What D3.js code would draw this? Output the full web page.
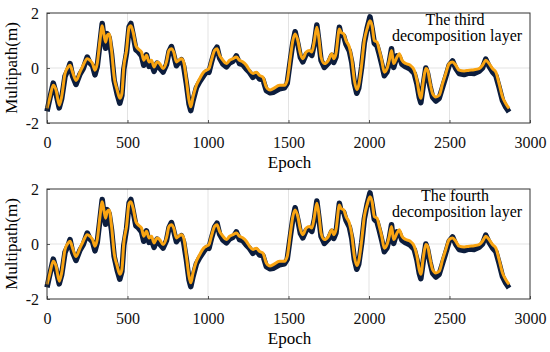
<!DOCTYPE html>
<html>
<head>
<meta charset="utf-8">
<script src="https://cdn.jsdelivr.net/npm/d3@7"></script>
<style>
  html,body{margin:0;padding:0;background:#fff;}
  svg{display:block;font-family:"Liberation Serif","Times New Roman",serif;}
  .grid line{stroke:#e3e3e3;stroke-width:1;}
  .tick text{fill:#111;}
</style>
</head>
<body>
<svg id="chart" width="550" height="352"></svg>
<script>
/* Data: epoch, filtered (orange) and raw (dark) multipath */
const smooth=[[0,-1.47],[14,-1.17],[39,-0.63],[56,-0.8],[76,-1.35],[91,-1.05],[112,-0.2],[132,0.04],[143,0.1],[159,-0.15],
[180,-0.45],[205,-0.15],[225,0.1],[250,0.34],[267,0.28],[283,0.16],[298,-0.08],[312,0.16],[329,1.0],[343,1.54],
[353,1.24],[364,0.94],[374,1.18],[386,1.24],[401,0.64],[417,-0.33],[436,-0.8],[452,-1.1],[465,-0.93],[477,0.04],
[494,0.64],[510,1.48],[521,1.54],[535,1.3],[552,0.82],[566,0.7],[587,0.58],[601,0.28],[618,0.46],[634,0.22],
[649,0.28],[665,0.04],[684,0.22],[700,0.16],[721,-0.02],[742,0.22],[758,0.64],[773,0.7],[787,0.58],[804,0.22],
[818,0.28],[835,0.34],[849,0.22],[866,-0.45],[882,-1.17],[893,-1.41],[907,-1.05],[928,-0.63],[948,-0.39],[973,-0.15],
[990,-0.08],[1006,-0.02],[1021,0.28],[1041,0.64],[1056,0.7],[1072,0.46],[1093,0.28],[1114,0.16],[1134,0.28],[1155,0.34],
[1176,0.4],[1196,0.28],[1217,0.22],[1238,0.1],[1258,-0.08],[1279,-0.2],[1300,-0.15],[1320,-0.27],[1341,-0.33],[1362,-0.69],
[1386,-0.8],[1405,-0.75],[1444,-0.63],[1475,-0.63],[1492,-0.45],[1512,0.4],[1527,1.0],[1541,1.24],[1558,1.0],[1574,0.52],
[1589,0.34],[1610,0.58],[1630,0.64],[1645,0.58],[1661,1.0],[1676,1.48],[1688,1.12],[1702,0.4],[1723,0.16],[1748,0.28],
[1769,0.52],[1781,0.34],[1795,0.52],[1816,1.42],[1826,1.3],[1843,1.24],[1857,1.0],[1878,0.76],[1893,0.34],[1909,-0.45],
[1924,-0.78],[1936,-0.63],[1955,0.16],[1971,1.0],[1988,1.42],[2006,1.72],[2019,1.54],[2033,1.0],[2050,0.94],[2064,0.64],
[2079,0.28],[2095,-0.15],[2112,-0.02],[2126,0.28],[2140,0.64],[2153,0.16],[2174,0.4],[2188,0.52],[2205,0.28],[2229,0.16],
[2256,0.1],[2281,-0.08],[2298,-0.45],[2312,-0.93],[2322,-1.1],[2337,-0.5],[2353,-0.02],[2364,-0.08],[2378,-0.5],[2395,-0.93],
[2415,-1.05],[2436,-0.99],[2457,-0.57],[2477,-0.2],[2498,0.16],[2519,0.22],[2539,0.1],[2560,-0.08],[2591,-0.11],[2622,-0.08],
[2653,-0.06],[2684,-0.02],[2705,0.1],[2725,0.28],[2746,0.16],[2767,-0.02],[2788,-0.15],[2808,-0.57],[2829,-1.05],[2849,-1.29],
[2870,-1.47]];

const raw=[[0,-1.58],[14,-1.2],[39,-0.55],[56,-0.92],[76,-1.45],[91,-1.12],[112,-0.3],[132,-0.04],[143,0.16],[159,-0.3],
[180,-0.6],[205,-0.22],[225,-0.02],[250,0.4],[267,0.18],[283,0.08],[298,-0.25],[312,0.05],[329,0.9],[343,1.62],
[353,1.1],[364,0.72],[374,1.25],[386,1.1],[401,0.5],[417,-0.45],[436,-0.95],[452,-1.28],[465,-1.0],[477,-0.05],
[494,0.55],[510,1.5],[521,1.62],[535,1.2],[552,0.66],[566,0.6],[587,0.44],[601,0.1],[618,0.48],[634,0.06],
[649,0.14],[665,-0.12],[684,0.18],[700,0.0],[721,-0.15],[742,0.12],[758,0.6],[773,0.78],[787,0.48],[804,0.08],
[818,0.2],[835,0.3],[849,0.06],[866,-0.58],[882,-1.3],[893,-1.55],[907,-1.18],[928,-0.72],[948,-0.5],[973,-0.28],
[990,-0.14],[1006,-0.16],[1021,0.2],[1041,0.62],[1056,0.76],[1072,0.36],[1093,0.14],[1114,0.04],[1134,0.18],[1155,0.24],
[1176,0.44],[1196,0.16],[1217,0.12],[1238,-0.04],[1258,-0.16],[1279,-0.34],[1300,-0.22],[1320,-0.4],[1341,-0.42],[1362,-0.82],
[1386,-0.9],[1405,-0.88],[1444,-0.76],[1475,-0.72],[1492,-0.56],[1512,0.3],[1527,0.92],[1541,1.32],[1558,0.88],[1574,0.38],
[1589,0.22],[1610,0.5],[1630,0.56],[1645,0.46],[1661,0.9],[1676,1.56],[1688,1.0],[1702,0.28],[1723,0.02],[1748,0.18],
[1769,0.46],[1781,0.2],[1795,0.4],[1816,1.48],[1826,1.2],[1843,1.16],[1857,0.86],[1878,0.62],[1893,0.2],[1909,-0.56],
[1924,-0.92],[1936,-0.74],[1955,0.06],[1971,0.92],[1988,1.44],[2006,1.86],[2019,1.44],[2033,0.9],[2050,0.8],[2064,0.5],
[2079,0.14],[2095,-0.28],[2112,-0.14],[2126,0.2],[2140,0.7],[2153,0.02],[2174,0.44],[2188,0.4],[2205,0.14],[2229,0.04],
[2256,-0.04],[2281,-0.2],[2298,-0.58],[2312,-1.06],[2322,-1.26],[2337,-0.62],[2353,0.0],[2364,-0.2],[2378,-0.64],[2395,-1.06],
[2415,-1.2],[2436,-1.1],[2457,-0.7],[2477,-0.32],[2498,0.1],[2519,0.26],[2539,-0.02],[2560,-0.2],[2591,-0.24],[2622,-0.18],
[2653,-0.2],[2684,-0.12],[2705,0.0],[2725,0.32],[2746,0.06],[2767,-0.14],[2788,-0.28],[2808,-0.7],[2829,-1.18],[2849,-1.42],
[2870,-1.6]];

const xTicks=[0,500,1000,1500,2000,2500,3000];
const yTicks=[-2,0,2];
const panelTitles=[["The third","decomposition layer"],["The fourth","decomposition layer"]];

const svg=d3.select("#chart");
const left=47,right=530,panelH=110;
const panelTops=[13,189];
const FONT="Liberation Serif";

const x=d3.scaleLinear().domain([0,3000]).range([left,right]);

panelTops.forEach((top,i)=>{
  const y=d3.scaleLinear().domain([-2,2]).range([top+panelH,top]);
  const g=svg.append("g");

  // grid
  const grid=g.append("g").attr("class","grid");
  grid.selectAll(".gx").data(xTicks.slice(1,-1)).enter().append("line")
    .attr("x1",d=>x(d)).attr("x2",d=>x(d)).attr("y1",top).attr("y2",top+panelH);
  grid.selectAll(".gy").data([0]).enter().append("line")
    .attr("x1",left).attr("x2",right).attr("y1",d=>y(d)).attr("y2",d=>y(d));

  // data
  const rawLine=d3.line().x(d=>x(d[0])).y(d=>y(d[1]));
  const smLine=d3.line().x(d=>x(d[0])).y(d=>y(d[1])).curve(d3.curveMonotoneX);
  g.append("path").datum(raw).attr("d",rawLine)
    .attr("fill","none").attr("stroke","#0c1d3d").attr("stroke-width",5.5).attr("stroke-linejoin","round");
  g.append("path").datum(smooth).attr("d",smLine)
    .attr("fill","none").attr("stroke","#f9a412").attr("stroke-width",3).attr("stroke-linejoin","round");

  // axes
  const fmt=d=>String(d);
  const xAxis=d3.axisBottom(x).tickValues(xTicks).tickFormat(fmt).tickSize(-3).tickPadding(8);
  const yAxis=d3.axisLeft(y).tickValues(yTicks).tickFormat(fmt).tickSize(-3).tickPadding(8);
  const gx=g.append("g").attr("transform",`translate(0,${top+panelH})`).call(xAxis);
  const gy=g.append("g").attr("transform",`translate(${left},0)`).call(yAxis);
  [gx,gy].forEach(a=>{
    a.attr("font-family",FONT).attr("font-size",16);
    a.select(".domain").remove();
    a.selectAll(".tick line").attr("stroke","#333").attr("stroke-width",0.8);
  });
  gx.selectAll(".tick text").attr("dy","1.05em");

  // box
  g.append("rect").attr("x",left).attr("y",top).attr("width",right-left).attr("height",panelH)
    .attr("fill","none").attr("stroke","#333").attr("stroke-width",1);

  // labels
  svg.append("text").attr("x",(left+right)/2+1).attr("y",top+panelH+45)
    .attr("text-anchor","middle").attr("font-size",17).text("Epoch");
  svg.append("text").attr("transform",`translate(17,${top+panelH/2}) rotate(-90)`)
    .attr("text-anchor","middle").attr("font-size",17).text("Multipath(m)");

  const t=svg.append("text").attr("text-anchor","middle").attr("font-size",16);
  t.append("tspan").attr("x",455).attr("y",top+12).text(panelTitles[i][0]);
  t.append("tspan").attr("x",457).attr("y",top+28).text(panelTitles[i][1]);
});
</script>
</body>
</html>
